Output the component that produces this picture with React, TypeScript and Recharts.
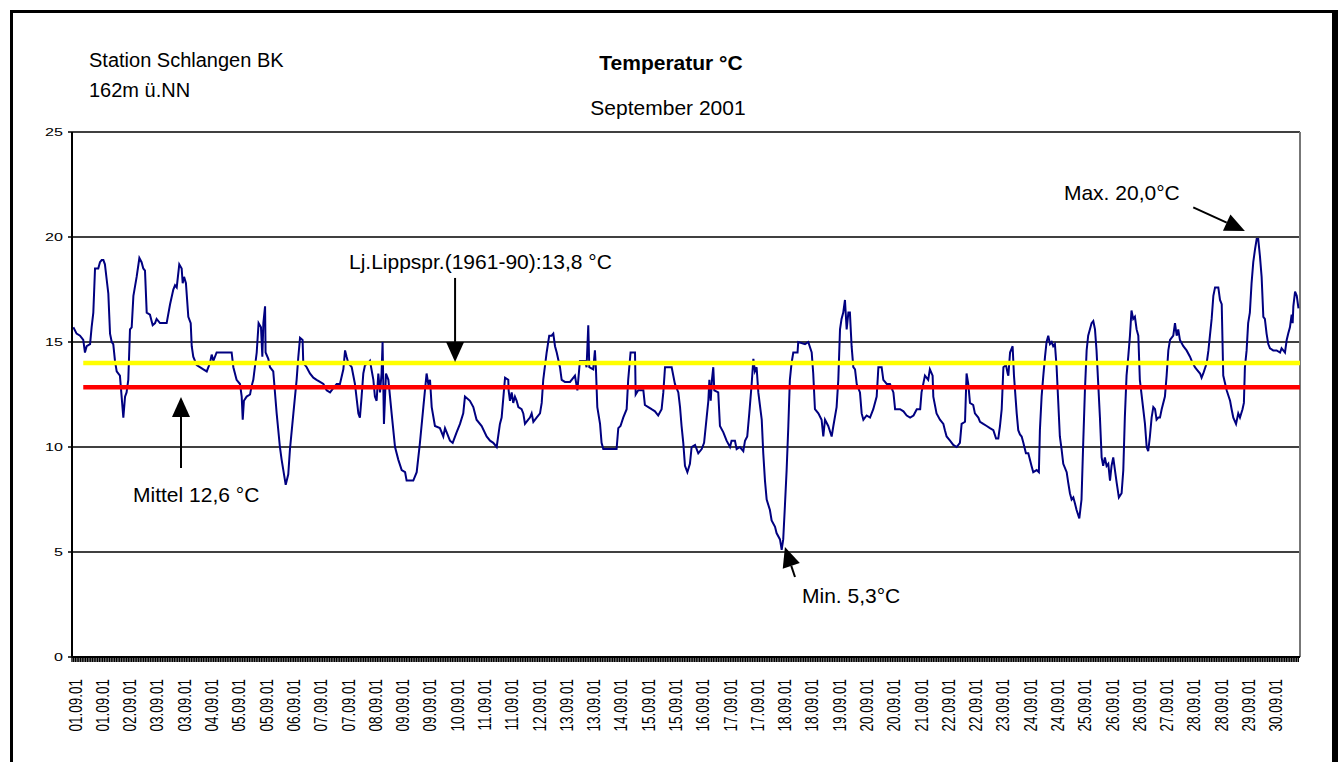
import React from "react"
import { LineChart, Line, XAxis, YAxis, CartesianGrid, ReferenceLine, ReferenceDot } from "recharts"

const FONT = '"Liberation Sans", Arial, Helvetica, sans-serif'

// one label every 16 readings (hourly values)
const tickLabels = [
  "01.09.01", "01.09.01", "02.09.01", "03.09.01", "03.09.01", "04.09.01", "05.09.01", "05.09.01", "06.09.01",
  "07.09.01", "07.09.01", "08.09.01", "09.09.01", "09.09.01", "10.09.01", "11.09.01", "11.09.01", "12.09.01",
  "13.09.01", "13.09.01", "14.09.01", "15.09.01", "15.09.01", "16.09.01", "17.09.01", "17.09.01", "18.09.01",
  "18.09.01", "19.09.01", "20.09.01", "20.09.01", "21.09.01", "22.09.01", "22.09.01", "23.09.01", "24.09.01",
  "24.09.01", "25.09.01", "26.09.01", "26.09.01", "27.09.01", "28.09.01", "28.09.01", "29.09.01", "30.09.01",
]

const yTicks = [0, 5, 10, 15, 20, 25]

// [hours since 01.09.01 00:00, °C]
const readings: [number, number][] = [
  [0.8, 15.7], [2.7, 15.4], [4.7, 15.3], [6.6, 15.1], [7.6, 14.5], [8.6, 14.8], [10.6, 14.9], [11.5, 15.7],
  [12.5, 16.4], [13.5, 18.5], [15.4, 18.5], [16.4, 18.8], [17.4, 18.9], [18.4, 18.9], [19.3, 18.7], [20.3, 18.0],
  [21.3, 17.3], [22.3, 15.4], [23.3, 15.0], [24.2, 14.9], [25.2, 14.1], [26.2, 13.6], [28.1, 13.4], [29.1, 12.4],
  [30.1, 11.4], [31.1, 12.4], [32.0, 12.6], [33.0, 13.2], [34.0, 15.6], [35.0, 15.7], [36.0, 17.2], [37.9, 18.1],
  [39.5, 19.0], [40.8, 18.8], [41.8, 18.5], [42.8, 18.4], [43.8, 16.4], [45.7, 16.3], [47.3, 15.8], [48.7, 15.9],
  [49.6, 16.1], [51.6, 15.9], [55.5, 15.9], [57.5, 16.8], [59.4, 17.5], [60.4, 17.7], [61.4, 17.6], [62.9, 18.7],
  [64.3, 18.5], [64.9, 17.8], [65.7, 18.1], [66.8, 17.8], [68.2, 16.2], [69.6, 15.9], [70.2, 14.8], [71.1, 14.3],
  [72.1, 14.1], [73.1, 13.9], [75.0, 13.8], [77.0, 13.7], [79.0, 13.6], [80.9, 14.0], [81.9, 14.4], [82.9, 14.1],
  [84.8, 14.5], [93.6, 14.5], [94.6, 13.8], [96.5, 13.2], [98.5, 13.0], [99.5, 12.4], [100.1, 11.3], [100.8, 12.2],
  [102.4, 12.4], [104.4, 12.5], [105.3, 12.9], [106.3, 13.2], [108.3, 14.5], [109.4, 15.9], [110.8, 15.7], [111.6, 14.3],
  [112.2, 15.9], [113.2, 16.7], [113.5, 14.5], [115.1, 14.2], [116.1, 13.8], [118.0, 13.6], [120.0, 11.6], [121.9, 10.0],
  [122.9, 9.4], [123.9, 8.9], [125.3, 8.2], [126.8, 8.7], [127.8, 9.9], [129.8, 11.6], [131.7, 13.2], [132.7, 14.3],
  [133.7, 15.2], [135.2, 15.1], [135.6, 14.0], [137.6, 13.8], [139.5, 13.5], [141.5, 13.3], [143.4, 13.2], [145.4, 13.1],
  [147.4, 13.0], [149.3, 12.7], [151.3, 12.6], [153.2, 12.8], [155.2, 13.0], [157.1, 13.0], [159.1, 13.7], [160.1, 14.6],
  [161.0, 14.3], [162.0, 14.0], [164.0, 13.8], [165.9, 13.0], [167.9, 11.6], [168.8, 11.4], [169.8, 12.4], [170.8, 13.5],
  [171.8, 13.9], [173.7, 14.0], [174.7, 14.1], [176.7, 13.2], [177.6, 12.4], [178.6, 12.2], [179.6, 13.5], [180.6, 12.6],
  [181.5, 13.5], [182.1, 15.0], [182.9, 11.1], [184.1, 13.5], [185.5, 13.2], [187.4, 11.6], [189.4, 10.0], [191.3, 9.4],
  [193.3, 8.9], [195.3, 8.8], [196.2, 8.4], [200.1, 8.4], [202.1, 8.8], [204.0, 10.2], [206.0, 11.9], [207.9, 13.5],
  [208.9, 13.0], [209.9, 13.2], [210.9, 11.9], [212.8, 11.0], [215.7, 10.9], [217.7, 10.5], [218.7, 10.9], [219.7, 10.7],
  [221.6, 10.3], [223.2, 10.2], [225.5, 10.7], [227.5, 11.1], [229.4, 11.6], [230.4, 12.4], [233.3, 12.2], [235.3, 11.9],
  [237.2, 11.3], [240.2, 11.0], [243.1, 10.5], [245.1, 10.3], [247.0, 10.2], [249.0, 10.0], [250.9, 11.1], [251.9, 11.4],
  [253.9, 13.3], [255.8, 13.2], [256.0, 12.7], [256.8, 12.2], [257.8, 12.6], [258.7, 12.1], [259.7, 12.4], [260.7, 12.2],
  [261.7, 11.9], [263.6, 11.8], [264.6, 11.6], [265.6, 11.1], [267.5, 11.3], [268.5, 11.4], [269.5, 11.6], [270.5, 11.2],
  [272.4, 11.4], [274.4, 11.6], [275.4, 12.1], [276.3, 13.2], [278.3, 14.5], [279.8, 15.3], [281.2, 15.3], [282.2, 15.4],
  [283.2, 14.8], [284.2, 14.5], [286.1, 13.8], [287.1, 13.2], [289.0, 13.1], [292.0, 13.1], [294.9, 13.4], [296.3, 12.7],
  [297.8, 14.1], [300.8, 14.1], [301.7, 13.8], [302.7, 15.8], [303.3, 13.8], [305.6, 13.7], [306.6, 14.6], [307.2, 13.7],
  [308.0, 11.9], [309.6, 11.1], [310.5, 10.2], [311.5, 9.9], [319.3, 9.9], [320.3, 10.9], [321.6, 11.0], [323.2, 11.4],
  [325.2, 11.8], [326.1, 13.2], [327.5, 14.5], [330.1, 14.5], [330.5, 12.5], [332.0, 12.7], [335.0, 12.7], [335.9, 12.0],
  [337.9, 11.9], [339.8, 11.8], [341.8, 11.7], [343.7, 11.5], [345.7, 11.8], [346.7, 12.6], [347.7, 13.8], [351.6, 13.8],
  [353.5, 13.0], [355.5, 12.6], [356.5, 11.9], [357.4, 11.0], [358.4, 10.2], [359.4, 9.1], [360.8, 8.8], [362.3, 9.2],
  [363.3, 10.0], [365.3, 10.1], [367.2, 9.7], [369.2, 9.9], [370.6, 10.2], [372.1, 11.4], [373.1, 12.2], [373.7, 13.2],
  [374.5, 12.2], [375.2, 13.2], [376.0, 13.8], [376.6, 12.7], [378.9, 12.6], [379.9, 11.0], [381.9, 10.7], [383.8, 10.3],
  [385.8, 10.0], [386.7, 10.3], [388.7, 10.3], [389.7, 9.9], [391.6, 10.0], [393.6, 9.8], [394.6, 10.3], [395.9, 10.5],
  [397.1, 11.6], [398.5, 13.0], [399.5, 14.2], [400.4, 13.6], [401.4, 13.8], [402.4, 12.6], [404.4, 11.3], [405.3, 9.7],
  [406.3, 8.4], [407.3, 7.5], [409.2, 7.0], [410.2, 6.5], [412.2, 6.2], [413.1, 5.9], [415.1, 5.6], [416.1, 5.1],
  [417.0, 5.6], [418.0, 7.2], [419.0, 8.9], [420.0, 11.0], [420.9, 13.2], [421.9, 14.0], [422.9, 14.5], [425.4, 14.5],
  [425.8, 15.0], [429.8, 14.9], [431.7, 15.0], [433.7, 14.5], [434.6, 13.5], [435.6, 11.8], [437.6, 11.6], [439.5, 11.3],
  [440.5, 10.5], [441.5, 11.3], [443.4, 11.0], [445.4, 10.5], [446.4, 11.0], [448.3, 11.9], [449.3, 13.2], [450.3, 15.6],
  [451.2, 16.1], [452.2, 16.4], [453.2, 17.0], [454.2, 15.6], [455.2, 16.4], [456.1, 16.4], [457.1, 14.8], [458.1, 13.8],
  [459.1, 13.7], [460.1, 13.0], [462.0, 12.6], [463.0, 11.6], [464.0, 11.3], [465.9, 11.5], [467.9, 11.4], [469.8, 11.8],
  [471.8, 12.4], [472.8, 13.8], [474.7, 13.8], [475.7, 13.2], [477.7, 13.0], [479.6, 13.0], [481.6, 12.6], [482.6, 11.8],
  [485.5, 11.8], [487.5, 11.7], [489.4, 11.5], [491.4, 11.4], [493.4, 11.5], [495.3, 11.8], [497.3, 11.8], [498.1, 12.6],
  [500.1, 13.4], [502.0, 13.2], [503.0, 13.7], [504.6, 13.4], [505.0, 12.4], [506.9, 11.6], [508.9, 11.3], [510.9, 11.1],
  [511.8, 10.8], [512.8, 10.5], [514.8, 10.3], [516.7, 10.1], [518.7, 10.0], [520.6, 10.2], [521.6, 11.1], [523.6, 11.2],
  [524.5, 13.5], [525.5, 13.0], [526.5, 12.1], [528.4, 12.0], [529.4, 11.6], [531.4, 11.4], [532.4, 11.2], [534.3, 11.1],
  [536.3, 11.0], [538.2, 10.9], [540.2, 10.8], [541.8, 10.4], [543.1, 10.4], [544.1, 11.0], [545.1, 11.8], [546.1, 13.8],
  [547.6, 13.9], [548.6, 13.5], [549.0, 13.4], [550.0, 14.5], [551.5, 14.8], [552.3, 13.4], [553.9, 11.6], [554.8, 10.8],
  [555.8, 10.6], [556.8, 10.5], [557.8, 10.2], [559.3, 9.7], [560.7, 9.7], [562.6, 9.1], [563.6, 8.8], [565.6, 8.9],
  [566.9, 8.8], [567.5, 10.8], [568.5, 12.4], [569.5, 13.4], [570.5, 14.3], [571.4, 15.0], [572.4, 15.3], [573.4, 14.9],
  [574.4, 15.0], [575.3, 14.8], [576.3, 14.9], [577.3, 13.8], [579.2, 10.5], [580.2, 9.9], [581.2, 9.2], [583.2, 8.8],
  [584.1, 8.3], [585.1, 7.8], [586.1, 7.5], [587.1, 7.6], [588.1, 7.3], [589.0, 7.0], [590.6, 6.6], [591.9, 7.5],
  [592.9, 10.2], [593.9, 12.7], [594.9, 14.6], [595.8, 15.3], [596.8, 15.6], [597.8, 15.9], [598.8, 16.0], [599.8, 15.6],
  [600.7, 14.6], [602.7, 11.4], [603.7, 9.5], [604.6, 9.1], [605.6, 9.5], [606.6, 9.1], [607.6, 9.2], [608.6, 8.4],
  [609.5, 9.1], [610.5, 9.5], [611.5, 8.9], [612.5, 8.3], [613.8, 7.6], [615.4, 7.8], [616.4, 8.9], [617.3, 11.4],
  [618.3, 13.4], [619.3, 14.3], [620.3, 15.3], [621.2, 16.5], [622.2, 16.1], [623.2, 16.2], [624.2, 15.6], [625.2, 15.3],
  [626.1, 13.2], [628.1, 11.8], [629.1, 11.1], [630.1, 10.0], [631.0, 9.8], [632.0, 10.5], [633.0, 11.4], [634.0, 11.9],
  [635.0, 11.8], [635.9, 11.3], [636.9, 11.4], [637.9, 11.4], [638.9, 11.8], [640.8, 12.4], [641.8, 13.4], [642.8, 14.6],
  [643.8, 15.1], [645.7, 15.3], [646.7, 15.9], [647.7, 15.3], [648.6, 15.6], [649.6, 15.1], [651.6, 14.8], [653.5, 14.6],
  [655.5, 14.3], [656.5, 14.1], [658.4, 13.8], [659.4, 13.7], [661.4, 13.5], [662.3, 13.3], [663.3, 13.5], [665.3, 14.0],
  [666.3, 14.6], [668.2, 16.1], [669.2, 17.2], [670.2, 17.6], [672.1, 17.6], [673.1, 17.0], [674.1, 16.8], [675.0, 13.4],
  [677.0, 12.7], [679.0, 12.2], [679.9, 11.8], [680.9, 11.4], [682.5, 11.1], [683.8, 11.6], [684.8, 11.4], [686.3, 11.8],
  [687.1, 12.1], [687.7, 13.8], [688.7, 14.6], [689.6, 15.9], [690.6, 16.4], [691.6, 17.8], [692.6, 18.8], [693.6, 19.4],
  [694.6, 19.9], [695.5, 19.9], [696.5, 19.1], [697.5, 18.1], [698.5, 16.2], [699.4, 16.1], [700.4, 15.4], [701.4, 14.9],
  [702.4, 14.7], [704.3, 14.6], [706.3, 14.6], [708.3, 14.5], [709.2, 14.7], [710.2, 14.6], [711.2, 14.5], [712.2, 15.1],
  [713.1, 15.4], [714.1, 15.7], [715.1, 16.3], [715.7, 15.9], [716.1, 16.7], [717.1, 17.4], [718.1, 17.2], [719.1, 16.6],
]

// horizontal lines as drawn in the picture
const normalTemp = 14.0
const meanTemp = 12.85
const lineStart = 6.6
const lineEnd = 720

// text anchor (start, baseline) and arrow tail -> tip, in data units
const annotations = [
  { text: "Lj.Lippspr.(1961-90):13,8 °C", at: [162.4, 18.5], from: [224.6, 18.05], to: [224.6, 14.05] },
  { text: "Mittel 12,6 °C", at: [35.8, 7.4], from: [63.9, 9.0], to: [63.9, 12.38] },
  { text: "Min. 5,3°C", at: [428.0, 2.57], from: [423.9, 3.81], to: [418.0, 5.24] },
  { text: "Max. 20,0°C", at: [581.6, 21.76], from: [657.4, 21.41], to: [687.7, 20.29] },
]

const data = readings.map(([h, t]) => ({ h, t }))
const hourTicks = Array.from({ length: 720 }, (_, i) => i)

const DateTick = ({ x, y, payload }: any) => {
  const h = payload.value
  const label = h % 16 === 0 ? tickLabels[h / 16] : undefined
  if (!label) return <g />
  // the old chart's small text is drawn wide, hence the stretch
  return (
    <text
      x={0}
      y={0}
      transform={`translate(${x + 3}, ${y + 15}) rotate(-90) scale(1, 1.4)`}
      textAnchor="end"
      dy="0.35em"
      fontSize={13.5}
      fontFamily={FONT}
      fill="#000"
    >
      {label}
    </text>
  )
}

const ValueTick = ({ x, y, payload }: any) => (
  <text
    x={0}
    y={0}
    transform={`translate(${x}, ${y}) scale(1.4, 1)`}
    textAnchor="end"
    dy="0.35em"
    fontSize={11.5}
    fontFamily={FONT}
    fill="#000"
  >
    {payload.value}
  </text>
)

const Arrow = (props: any) => {
  const { x1, y1, x2, y2 } = props
  const ang = Math.atan2(y2 - y1, x2 - x1)
  const len = 20
  const half = 9
  const bx = x2 - len * Math.cos(ang)
  const by = y2 - len * Math.sin(ang)
  const px = -Math.sin(ang) * half
  const py = Math.cos(ang) * half
  return (
    <g>
      <line x1={x1} y1={y1} x2={bx} y2={by} stroke="#000" strokeWidth={2} />
      <polygon points={`${x2},${y2} ${bx + px},${by + py} ${bx - px},${by - py}`} fill="#000" />
    </g>
  )
}

const textStyle: React.CSSProperties = {
  position: "absolute",
  fontFamily: FONT,
  color: "#000",
  whiteSpace: "nowrap",
  lineHeight: "20px",
}

export default function App() {
  return (
    <div style={{ position: "fixed", left: 0, top: 0, width: 1338, height: 762, overflow: "hidden", background: "#fff" }}>
      <div
        style={{
          position: "absolute",
          left: 10,
          top: 10,
          width: 1328,
          height: 800,
          boxSizing: "border-box",
          borderLeft: "3px solid #000",
          borderTop: "3px solid #000",
          borderRight: "6px solid #000",
        }}
      />
      <div style={{ position: "absolute", left: 0, top: 0 }}>
        <LineChart width={1338} height={762} data={data} margin={{ top: 132, right: 38, bottom: 5, left: 0 }}>
          <CartesianGrid vertical={false} stroke="#000" strokeWidth={1.5} />
          <XAxis
            dataKey="h"
            type="number"
            domain={[0, 720]}
            ticks={hourTicks}
            interval={0}
            height={100}
            tickSize={5}
            axisLine={{ stroke: "#000", strokeWidth: 2 }}
            tickLine={{ stroke: "#000", strokeWidth: 1.4 }}
            tick={<DateTick />}
          />
          <YAxis
            type="number"
            domain={[0, 25]}
            ticks={yTicks}
            width={72}
            tickSize={4}
            tickMargin={5}
            axisLine={{ stroke: "#000", strokeWidth: 2 }}
            tickLine={{ stroke: "#000", strokeWidth: 1.5 }}
            tick={<ValueTick />}
          />
          <ReferenceLine x={720} stroke="#777" strokeWidth={2} />
          <Line type="linear" dataKey="t" stroke="#000080" strokeWidth={2} dot={false} isAnimationActive={false} />
          <ReferenceLine segment={[{ x: lineStart, y: normalTemp }, { x: lineEnd, y: normalTemp }]} stroke="#ffff00" strokeWidth={4.5} />
          <ReferenceLine segment={[{ x: lineStart, y: meanTemp }, { x: lineEnd, y: meanTemp }]} stroke="#ff0000" strokeWidth={4.5} />
          {annotations.map((a) => (
            <ReferenceLine
              key={`arrow-${a.text}`}
              segment={[{ x: a.from[0], y: a.from[1] }, { x: a.to[0], y: a.to[1] }]}
              shape={<Arrow />}
            />
          ))}
          {annotations.map((a) => (
            <ReferenceDot
              key={`label-${a.text}`}
              x={a.at[0]}
              y={a.at[1]}
              r={0}
              shape={(p: any) => (
                <text x={p.cx} y={p.cy} fontSize={21} fontFamily={FONT} fill="#000">
                  {a.text}
                </text>
              )}
            />
          ))}
        </LineChart>
      </div>
      <div style={{ ...textStyle, left: 89, top: 50, fontSize: 20 }}>Station Schlangen BK</div>
      <div style={{ ...textStyle, left: 89, top: 80, fontSize: 20 }}>162m ü.NN</div>
      <div style={{ ...textStyle, left: 471, width: 400, textAlign: "center", top: 53, fontSize: 21, fontWeight: "bold" }}>
        Temperatur °C
      </div>
      <div style={{ ...textStyle, left: 468, width: 400, textAlign: "center", top: 98, fontSize: 21 }}>September 2001</div>
    </div>
  )
}
